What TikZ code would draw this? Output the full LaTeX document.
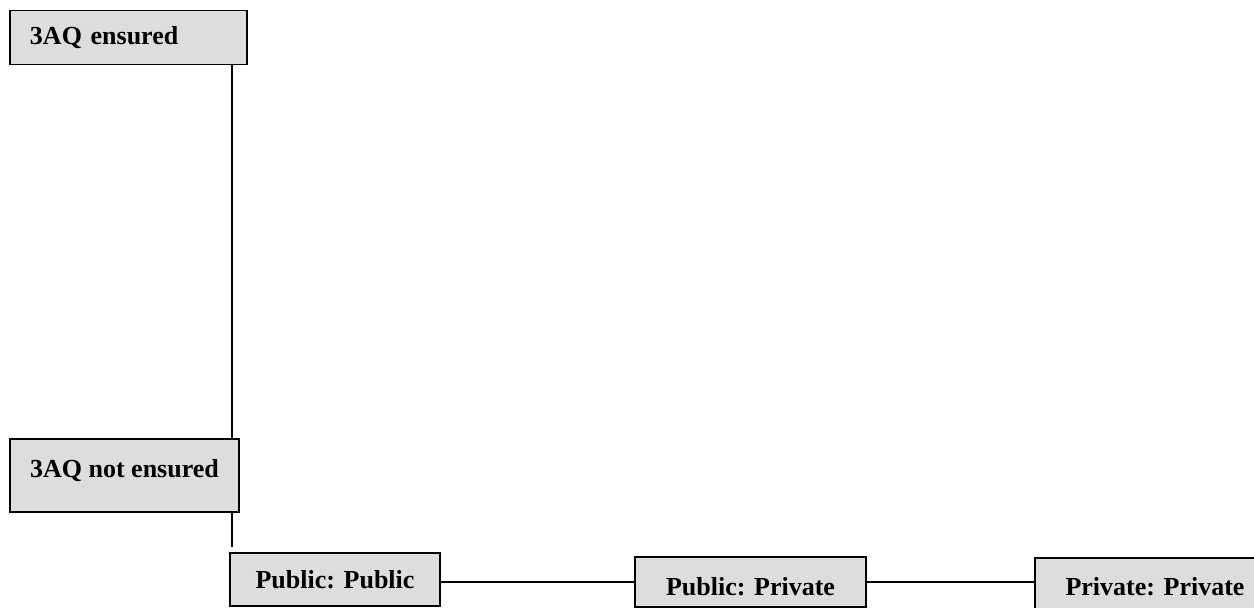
\documentclass[tikz,border=0pt]{standalone}
\usepackage{fontspec}
\setmainfont{Liberation Serif}
\definecolor{boxgray}{HTML}{DDDDDD}
\tikzset{
  catbox/.style={draw=black, line width=1.7pt, fill=boxgray, rectangle, inner sep=0pt,
    font=\fontsize{26}{30}\selectfont\bfseries},
  link/.style={draw=black, line width=1.6pt}
}
\begin{document}
\begin{tikzpicture}[x=1pt,y=-1pt]
\useasboundingbox (0,0) rectangle (1254,608);
\node[catbox, minimum height=54pt, text width=197pt, inner xsep=20pt, align=left] (A) at (128.5,37.5) {3AQ ensured};
\node[catbox, minimum width=229pt, minimum height=73pt, text height=17pt, text depth=14pt] (B) at (124.5,475.5) {3AQ not ensured};
\node[catbox, minimum width=210pt, minimum height=53pt] (C) at (335,579.5) {Public: Public};
\node[catbox, minimum width=231pt, minimum height=50pt, text height=30pt, text depth=4pt] (D) at (750.5,582) {Public: Private};
\node[catbox, minimum width=240pt, minimum height=60pt, text height=24pt, text depth=10pt] (E) at (1155,588) {Private: Private};
\draw[link] ([xshift=-16pt]A.south east) -- ([xshift=-16pt]A.south east |- B.north);
\draw[link] ([xshift=-8pt]B.south east) -- ([xshift=-8pt,yshift=5pt]B.south east |- C.north);
\draw[link] (D.west -| C.east) -- (D.west);
\draw[link] (D.east) -- (D.east -| E.west);
\end{tikzpicture}
\end{document}
